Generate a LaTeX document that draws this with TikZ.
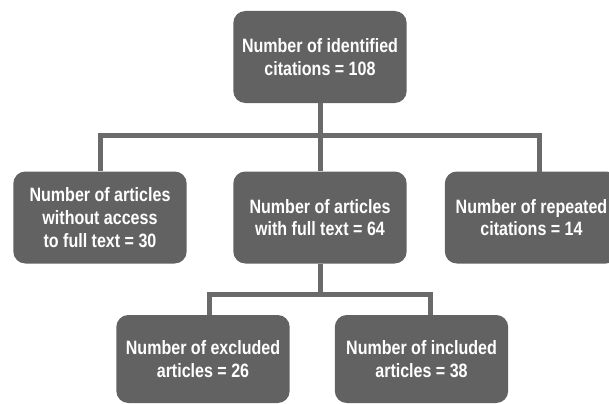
\documentclass[tikz,border=0pt]{standalone}
\usepackage{fontspec}
\setmainfont{Liberation Sans}
\newfontfamily\boxfont{Liberation Sans}[FakeStretch=0.83]
\usepackage{tikz}

\definecolor{boxgray}{RGB}{98,98,98}
\definecolor{linegray}{RGB}{106,106,106}

\tikzset{
  countbox/.style={rectangle, rounded corners=9pt, fill=boxgray, text=white,
    font=\boxfont\bfseries\fontsize{14.5}{17}\selectfont, align=center,
    inner sep=2pt, minimum width=130pt, minimum height=69pt},
  lowbox/.style={countbox, minimum height=66pt},
  link/.style={draw=linegray, line width=3.75pt}
}

\begin{document}
\begin{tikzpicture}[x=0.75pt, y=-0.75pt]
      \clip (0,0) rectangle (609,403);
      % boxes
      \node[countbox] (cites) at (320,57) {Number of identified\\citations = 108};
      \node[countbox] (noacc) at (100,217.5) {Number of articles\\without access\\to full text = 30};
      \node[countbox] (full) at (320,217.5) {Number of articles\\with full text = 64};
      \node[countbox] (rep) at (531.5,217.5) {Number of repeated\\citations = 14};
      \node[lowbox] (excl) at (203,359) {Number of excluded\\articles = 26};
      \node[lowbox] (incl) at (421.5,359) {Number of included\\articles = 38};
      % connector points
      \coordinate (split) at (320,135);
      \coordinate (repin) at (539,172);
      \coordinate (split2) at (320,294.5);
      \coordinate (exclin) at (209,315);
      \coordinate (inclin) at (430,315);
      % connectors
      \draw[link] (cites) -- (full);
      \draw[link] (noacc) |- (split) -| (repin);
      \draw[link] (full) -- (split2);
      \draw[link] (exclin) |- (split2) -| (inclin);
\end{tikzpicture}
\end{document}
